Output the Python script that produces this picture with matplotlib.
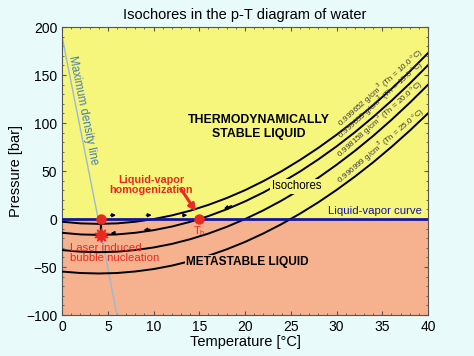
import matplotlib
matplotlib.use("Agg")
import matplotlib.pyplot as plt
import numpy as np
from matplotlib.ticker import MultipleLocator

plt.rcParams['font.family'] = ['Liberation Sans', 'DejaVu Sans']

# ---- data ----
T_iso = [0, 2, 4, 6, 8, 10, 12, 14, 16, 18, 20, 22, 24, 26, 28, 30, 32, 34, 36, 38, 40]
p_th10 = [-2.8, -4.5, -5.0, -4.5, -2.8, 0.0, 3.8, 8.7, 14.8, 21.9, 30.1, 39.5, 49.9,
          61.5, 74.1, 87.8, 102.6, 118.6, 135.6, 153.7, 172.9]
p_th15 = [-14.3, -16.0, -16.5, -16.0, -14.3, -11.6, -7.8, -2.9, 3.1, 10.2, 18.4, 27.7,
          38.1, 49.5, 62.1, 75.7, 90.4, 106.3, 123.2, 141.2, 160.3]
p_th20 = [-32.3, -34.0, -34.5, -34.0, -32.3, -29.6, -25.9, -21.0, -15.1, -8.1, 0.0, 9.1,
          19.3, 30.6, 43.0, 56.5, 71.0, 86.6, 103.3, 121.1, 139.9]
p_th25 = [-54.7, -56.2, -56.7, -56.2, -54.6, -52.1, -48.5, -43.8, -38.2, -31.5, -23.8,
          -15.0, -5.2, 5.6, 17.4, 30.3, 44.2, 59.1, 75.1, 92.1, 110.1]
iso_density = ["0.999652", "0.999053", "0.998158", "0.996999"]
iso_th = ["10.0", "15.0", "20.0", "25.0"]

T_maxdens = [0.0, 3.95, 6.0]
p_maxdens = [190, 0, -100]

T_lv = [0, 40]
p_lv = [0, 0]

T_nucl = 4.2
p_nucl = -17
T_h = 15.0

xticks = [0, 5, 10, 15, 20, 25, 30, 35, 40]
yticks = [-100, -50, 0, 50, 100, 150, 200]

# ---- styling ----
bg = '#e8fafa'
yellow = '#f6f67c'
salmon = '#f6b28e'
red = '#e82a22'
blue = '#1414a0'

fig = plt.figure(figsize=(4.74, 3.56), dpi=100, facecolor=bg)
ax = fig.add_axes([0.131, 0.115, 0.772, 0.809])

ax.set_xlim(0, 40)
ax.set_ylim(-100, 200)
ax.axhspan(0, 200, color=yellow, zorder=0, lw=0)
ax.axhspan(-100, 0, color=salmon, zorder=0, lw=0)

# maximum density line
ax.plot(T_maxdens, p_maxdens, color='#9bbad2', lw=1.0, zorder=2)
ax.text(2.3, 113, 'Maximum density line', color='#4a80ae', fontsize=8.3,
        rotation=-78.5, ha='center', va='center', zorder=3)

# isochores
curves = [p_th10, p_th15, p_th20, p_th25]
for pc in curves:
    ax.plot(T_iso, pc, color='black', lw=1.4, zorder=3)

# isochore labels
fig.canvas.draw()
for pc, dens, th in zip(curves, iso_density, iso_th):
    Tm = 35.3
    pm = float(np.interp(Tm, T_iso, pc))
    p1 = ax.transData.transform((Tm - 1, np.interp(Tm - 1, T_iso, pc)))
    p2 = ax.transData.transform((Tm + 1, np.interp(Tm + 1, T_iso, pc)))
    ang = np.degrees(np.arctan2(p2[1] - p1[1], p2[0] - p1[0]))
    ax.annotate(f'{dens} g/cm$^3$ (Th = {th} °C)', xy=(Tm, pm), xytext=(0, 1.2),
                textcoords='offset points', fontsize=5.8, color='#3a3a3a',
                rotation=ang, rotation_mode='anchor', ha='center', va='bottom', zorder=4)

# liquid-vapor curve
ax.plot(T_lv, p_lv, color=blue, lw=2.0, zorder=4)
ax.text(39.3, 3, 'Liquid-vapor curve', color=blue, fontsize=8.2, ha='right',
        va='bottom', zorder=5)

# region texts
ax.text(21.5, 96, 'THERMODYNAMICALLY\nSTABLE LIQUID', fontsize=8.8, fontweight='bold',
        ha='center', va='center', linespacing=1.3, zorder=5)
ax.text(20.3, -45, 'METASTABLE LIQUID', fontsize=8.6, fontweight='bold', ha='center',
        va='center', zorder=5,
        bbox=dict(boxstyle='square,pad=0.1', fc=salmon, ec='none'))
ax.text(25.6, 34, 'Isochores', fontsize=8.3, ha='center', va='center', zorder=5,
        bbox=dict(boxstyle='square,pad=0.1', fc=yellow, ec='none'))

# small direction arrows
arrow_kw = dict(arrowstyle='-|>', color='black', lw=1.0, mutation_scale=5)
for t0, t1 in [(5.0, 6.2), (8.9, 10.1), (12.9, 14.0)]:
    ax.annotate('', xy=(t1, 4), xytext=(t0, 4), arrowprops=arrow_kw, zorder=5)
for t0, t1 in [(5.9, 5.0), (9.9, 8.6), (18.8, 17.4)]:
    ax.annotate('', xy=(t1, np.interp(t1, T_iso, p_th15) + 1.5),
                xytext=(t0, np.interp(t0, T_iso, p_th15) + 1.5),
                arrowprops=arrow_kw, zorder=5)

# nucleation path
ax.plot([T_nucl, T_nucl], [0, p_nucl], color='black', lw=1.6, zorder=5)
ax.plot([T_nucl], [0], 'o', color=red, ms=6.5, zorder=6)
ax.plot([T_nucl], [p_nucl], marker=(10, 1, 0), color=red, ms=10, zorder=6)
ax.plot([T_nucl], [p_nucl], 'o', color=red, ms=4.5, zorder=6)
ax.plot([T_h], [0], 'o', color=red, ms=6.5, zorder=6)
ax.text(T_h, -5, 'T$_\\mathregular{h}$', color=red, fontsize=8, ha='center', va='top', zorder=6)

ax.text(0.85, -25, 'Laser induced\nbubble nucleation', color=red, fontsize=8.2,
        ha='left', va='top', linespacing=1.0, zorder=6)
ax.text(9.7, 35.5, 'Liquid-vapor\nhomogenization', color=red, fontsize=7.8,
        fontweight='bold', ha='center', va='center', linespacing=1.1, zorder=6)
ax.annotate('', xy=(14.8, 5.5), xytext=(12.8, 34),
            arrowprops=dict(arrowstyle='-|>', color=red, lw=2.2, mutation_scale=10),
            zorder=6)

# axes formatting
ax.set_xticks(xticks)
ax.set_yticks(yticks)
ax.xaxis.set_minor_locator(MultipleLocator(1))
ax.yaxis.set_minor_locator(MultipleLocator(10))
ax.tick_params(which='both', direction='in', top=True, right=True, colors='#555555',
               labelcolor='black', labelsize=10)
ax.tick_params(which='major', length=3)
ax.tick_params(which='minor', length=1.5)
for s in ax.spines.values():
    s.set_color('#555555')
    s.set_linewidth(0.8)

ax.set_xlabel('Temperature [°C]', fontsize=10.5, labelpad=1)
ax.set_ylabel('Pressure [bar]', fontsize=10.5, labelpad=2)
ax.set_title('Isochores in the p-T diagram of water', fontsize=10.5, pad=6)

fig.savefig('out.png', dpi=100, facecolor=bg)
